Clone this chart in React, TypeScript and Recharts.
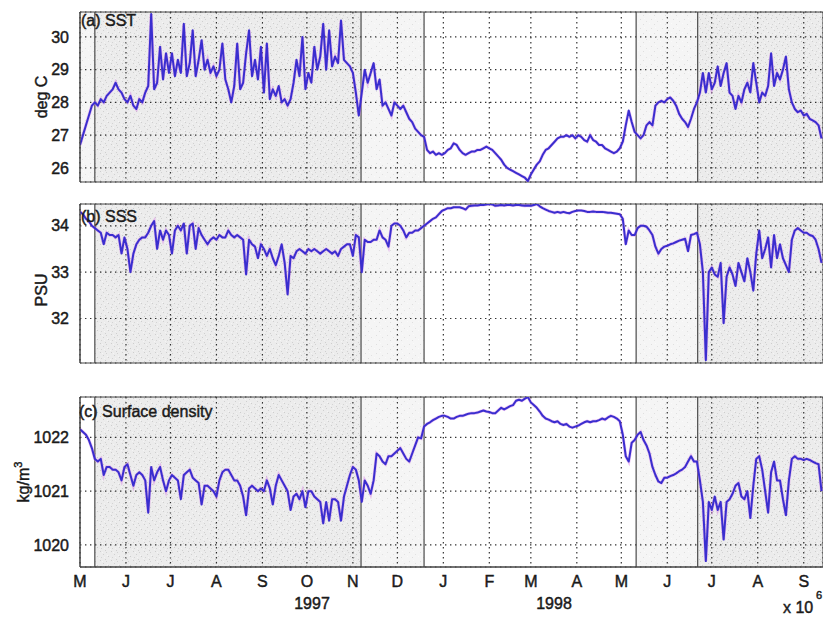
import React from 'react';
import { LineChart, Line, XAxis, YAxis, CartesianGrid, ReferenceArea, ReferenceLine } from 'recharts';

// Time axis: days since 1 May 1997, one sample every STEP_DAYS days.
const STEP_DAYS = 2;
const DAY_END = 501;
const monthStarts = [0, 31, 61, 92, 123, 153, 184, 214, 245, 276, 304, 335, 365, 396, 426, 457, 488];
const monthLabels = ['M', 'J', 'J', 'A', 'S', 'O', 'N', 'D', 'J', 'F', 'M', 'A', 'M', 'J', 'J', 'A', 'S'];

// Deployment boundaries (days) and the shaded periods between them.
const dividers = [10, 189.5, 232, 375, 416.5];
const darkPeriods: [number, number][] = [[10, 189.5], [416.5, DAY_END]];
const lightPeriods: [number, number][] = [[189.5, 232], [375, 416.5]];

// (a) Sea-surface temperature, deg C
const sst = [
  26.7, 27.0, 27.3, 27.6, 27.9, 28.0, 27.9, 28.1, 28.0, 28.2,
  28.3, 28.4, 28.6, 28.4, 28.3, 28.1, 28.0, 28.2, 27.9, 27.8,
  28.1, 28.0, 28.3, 28.5, 30.7, 28.4, 28.6, 29.7, 28.7, 29.5,
  28.9, 29.5, 28.8, 29.3, 28.9, 30.4, 28.8, 29.2, 30.2, 28.8,
  29.3, 29.9, 29.0, 29.3, 28.9, 29.1, 28.8, 29.0, 29.8, 28.7,
  28.4, 28.0, 28.5, 29.8, 28.4, 28.6, 29.5, 30.2, 28.8, 29.3,
  28.7, 29.7, 28.3, 29.8, 28.1, 28.4, 28.2, 28.5, 28.0, 28.1,
  27.9, 28.1, 28.6, 29.3, 28.8, 30.0, 28.4, 28.9, 28.6, 29.7,
  29.0, 29.4, 30.4, 29.0, 30.2, 29.1, 29.4, 29.2, 30.5, 29.3,
  29.2, 29.1, 28.9, 28.3, 27.6, 28.3, 29.0, 28.6, 28.9, 29.2,
  28.4, 28.7, 27.9, 28.0, 27.8, 27.6, 28.0, 27.9, 27.8, 27.9,
  27.7, 27.5, 27.4, 27.2, 27.1, 27.0, 26.95, 26.55, 26.45, 26.5,
  26.4, 26.45, 26.4, 26.45, 26.55, 26.6, 26.75, 26.7, 26.55, 26.45,
  26.4, 26.45, 26.5, 26.5, 26.55, 26.55, 26.6, 26.65, 26.6, 26.55,
  26.45, 26.35, 26.25, 26.1, 26.0, 25.95, 25.9, 25.85, 25.8, 25.75,
  25.7, 25.6, 25.8, 25.95, 26.1, 26.2, 26.4, 26.55, 26.6, 26.7,
  26.8, 26.9, 26.95, 26.95, 27.0, 26.95, 27.0, 26.9, 27.0, 26.95,
  26.85, 26.8, 27.0, 26.85, 26.8, 26.7, 26.7, 26.6, 26.55, 26.5,
  26.45, 26.5, 26.6, 26.8, 27.3, 27.75, 27.4, 27.1, 27.0, 26.9,
  27.0, 27.3, 27.4, 27.3, 27.9, 28.0, 28.05, 28.0, 28.1, 28.15,
  28.05, 27.9, 27.65, 27.5, 27.4, 27.25, 27.5, 27.8, 28.0, 28.3,
  28.9, 28.3, 28.9, 28.4, 28.6, 29.1, 28.5, 28.9, 29.2, 28.3,
  28.2, 27.8, 28.2, 28.0, 28.4, 28.6, 28.3, 29.2, 28.6, 28.0,
  28.3, 28.2, 28.5, 29.5, 28.5, 28.9, 28.7, 29.0, 29.4, 28.4,
  28.0, 27.8, 27.7, 27.75, 27.6, 27.65, 27.5, 27.45, 27.4, 27.3,
  26.9,
];

// (b) Sea-surface salinity, PSU
const sss = [
  34.3, 34.25, 34.15, 34.1, 34.0, 33.95, 33.9, 33.85, 33.6, 33.85,
  33.8, 33.8, 33.75, 33.8, 33.4, 33.75, 33.5, 33.0, 33.4, 33.6,
  33.7, 33.75, 33.75, 33.85, 34.0, 34.1, 33.5, 33.9, 33.7, 33.9,
  33.8, 33.4, 33.9, 34.0, 33.9, 34.05, 33.4, 34.0, 34.05, 33.5,
  33.95, 33.8, 33.7, 33.6, 33.7, 33.75, 33.7, 33.8, 33.75, 33.75,
  33.9, 33.8, 33.75, 33.8, 33.75, 33.7, 32.95, 33.7, 33.6, 33.55,
  33.3, 33.6, 33.5, 33.35, 33.5, 33.3, 33.15, 33.35, 33.6, 33.2,
  32.52, 33.35, 33.3, 33.45, 33.5, 33.45, 33.4, 33.5, 33.45, 33.5,
  33.45, 33.4, 33.45, 33.5, 33.45, 33.4, 33.45, 33.35, 33.5, 33.55,
  33.6, 33.6, 33.35, 33.8, 33.75, 33.0, 33.7, 33.65, 33.65, 33.7,
  33.7, 33.9, 33.75, 33.7, 33.55, 34.0, 34.05, 34.05, 34.0, 33.9,
  33.75, 33.85, 33.85, 33.9, 33.9, 33.95, 34.0, 34.05, 34.1, 34.15,
  34.18, 34.25, 34.32, 34.35, 34.38, 34.38, 34.4, 34.4, 34.4, 34.38,
  34.35, 34.42, 34.43, 34.44, 34.44, 34.45, 34.45, 34.46, 34.47, 34.46,
  34.43, 34.44, 34.45, 34.44, 34.45, 34.45, 34.44, 34.45, 34.45, 34.44,
  34.43, 34.44, 34.43, 34.45, 34.47, 34.42, 34.38, 34.35, 34.32, 34.3,
  34.28, 34.3, 34.28, 34.3, 34.28, 34.27, 34.3, 34.32, 34.33, 34.33,
  34.32, 34.3, 34.3, 34.31, 34.3, 34.3, 34.3, 34.29, 34.28, 34.28,
  34.27, 34.26, 34.25, 34.15, 33.6, 33.9, 33.8, 33.8, 33.95, 34.0,
  34.0, 33.98, 33.9, 33.8, 33.55, 33.4, 33.5, 33.55, 33.57, 33.6,
  33.62, 33.65, 33.68, 33.7, 33.72, 33.45, 33.8, 33.82, 33.85, 33.6,
  33.0, 31.1, 33.0, 33.1, 32.95, 32.9, 33.2, 31.9, 32.9, 33.1,
  32.95, 32.7, 33.2, 33.0, 32.8, 33.3, 33.0, 32.6, 33.4, 33.9,
  33.3, 33.5, 33.75, 33.1, 33.8, 33.3, 33.6, 33.3, 33.15, 33.0,
  33.7, 33.9, 33.95, 33.9, 33.85, 33.85, 33.8, 33.78, 33.7, 33.5,
  33.2,
];

// (c) Surface density, kg/m^3
const density = [
  1022.15, 1022.1, 1022.05, 1021.95, 1021.8, 1021.6, 1021.55, 1021.6, 1021.3, 1021.45,
  1021.45, 1021.4, 1021.4, 1021.35, 1021.2, 1021.45, 1021.5, 1021.3, 1021.1, 1021.3,
  1021.35, 1021.3, 1021.2, 1020.6, 1021.45, 1021.2, 1021.35, 1021.45, 1021.2, 1021.0,
  1021.2, 1021.3, 1021.25, 1021.2, 1020.85, 1021.3, 1021.35, 1021.4, 1021.25, 1021.2,
  1021.15, 1020.75, 1021.1, 1021.1, 1021.05, 1021.0, 1020.9, 1021.2, 1021.35, 1021.4,
  1021.4, 1021.3, 1021.2, 1021.2, 1021.1, 1020.9, 1020.55, 1021.05, 1021.1, 1021.05,
  1021.0, 1021.05, 1021.0, 1021.2, 1021.05, 1020.75, 1021.1, 1021.3, 1021.2, 1021.1,
  1021.0, 1020.65, 1020.9, 1020.95, 1020.85, 1021.0, 1020.7, 1021.0, 1021.0, 1020.9,
  1020.85, 1020.8, 1020.4, 1020.8, 1020.45, 1020.85, 1020.85, 1020.8, 1020.45, 1020.9,
  1021.1, 1021.3, 1021.45, 1021.4, 1021.2, 1020.8, 1021.2, 1021.1, 1020.95, 1021.2,
  1021.7, 1021.65, 1021.55, 1021.5, 1021.65, 1021.65, 1021.7, 1021.75, 1021.8, 1021.7,
  1021.6, 1021.55, 1021.7, 1021.85, 1022.0, 1021.98, 1022.2, 1022.25, 1022.28, 1022.32,
  1022.35, 1022.38, 1022.4, 1022.4, 1022.38, 1022.35, 1022.35, 1022.38, 1022.4, 1022.4,
  1022.42, 1022.44, 1022.45, 1022.45, 1022.46, 1022.48, 1022.5, 1022.48, 1022.47, 1022.45,
  1022.45, 1022.5, 1022.55, 1022.52, 1022.55, 1022.58, 1022.6, 1022.68, 1022.7, 1022.68,
  1022.72, 1022.75, 1022.65, 1022.6, 1022.55, 1022.48, 1022.4, 1022.35, 1022.33, 1022.3,
  1022.28, 1022.3, 1022.25, 1022.23, 1022.25, 1022.2, 1022.18, 1022.2, 1022.22, 1022.25,
  1022.28, 1022.3, 1022.28, 1022.3, 1022.3, 1022.32, 1022.35, 1022.33, 1022.37, 1022.4,
  1022.38, 1022.35, 1022.3, 1022.05, 1021.65, 1021.55, 1021.9, 1021.95, 1022.05, 1022.1,
  1021.95, 1021.85, 1021.7, 1021.45, 1021.3, 1021.18, 1021.15, 1021.25, 1021.25, 1021.28,
  1021.3, 1021.33, 1021.37, 1021.4, 1021.45, 1021.55, 1021.65, 1021.55, 1021.55, 1021.2,
  1020.8, 1019.7, 1020.8, 1020.65, 1020.9, 1020.65, 1020.8, 1020.1, 1020.8, 1020.85,
  1020.95, 1021.1, 1021.15, 1020.9, 1020.85, 1021.0, 1020.5, 1021.1, 1021.6, 1021.65,
  1021.4, 1021.0, 1020.6, 1021.35, 1021.55, 1021.2, 1021.2, 1020.85, 1020.55, 1021.2,
  1021.6, 1021.65, 1021.6, 1021.6, 1021.58, 1021.6, 1021.58, 1021.55, 1021.52, 1021.5,
  1021.0,
];

const sstTicks = [26, 27, 28, 29, 30];
const sssTicks = [32, 33, 34];
const densityTicks = [1020, 1021, 1022];

const toRows = (values: number[]) => values.map((v, i) => ({ day: i * STEP_DAYS, v }));

const FONT = 'Liberation Sans, Arial, Helvetica, sans-serif';
const INK = '#1a1a1a';
const LINE_BLUE = '#3a2ecf';
const LINE_HALO = '#d67ee6';

const tickStyle = { fill: INK, stroke: INK, strokeWidth: 0.45, fontSize: 16, fontFamily: FONT };

type PanelProps = {
  values: number[];
  domain: [number, number];
  ticks: number[];
  height: number;
  margin: { top: number; right: number; bottom: number; left: number };
  showMonths: boolean;
  shadeStart: boolean;
};

function Panel({ values, domain, ticks, height, margin, showMonths, shadeStart }: PanelProps) {
  const rows = toRows(values);
  return (
    <LineChart width={823} height={height} data={rows} margin={margin}>
      <CartesianGrid stroke="#333" strokeWidth={1.2} strokeDasharray="1.4 3.6" />
      {shadeStart && (
        <ReferenceArea x1={0} x2={dividers[0]} y1={domain[0]} y2={domain[1]} fill="url(#stippleLight)" fillOpacity={1} stroke="none" />
      )}
      {darkPeriods.map(([a, b], i) => (
        <ReferenceArea key={`d${i}`} x1={a} x2={b} y1={domain[0]} y2={domain[1]} fill="url(#stippleDark)" fillOpacity={1} stroke="none" />
      ))}
      {lightPeriods.map(([a, b], i) => (
        <ReferenceArea key={`l${i}`} x1={a} x2={b} y1={domain[0]} y2={domain[1]} fill="url(#stippleLight)" fillOpacity={1} stroke="none" />
      ))}
      <XAxis
        dataKey="day"
        type="number"
        domain={[0, DAY_END]}
        ticks={monthStarts}
        allowDataOverflow
        tickFormatter={(d: number) => (showMonths ? monthLabels[monthStarts.indexOf(d)] ?? '' : '')}
        tick={tickStyle}
        tickLine={false}
        tickSize={0}
        tickMargin={9}
        axisLine={{ stroke: '#444' }}
        height={showMonths ? 40 : 0}
        interval={0}
      />
      <YAxis
        type="number"
        domain={domain}
        ticks={ticks}
        allowDataOverflow
        width={80}
        tickLine={false}
        tickMargin={5}
        tick={tickStyle}
        axisLine={{ stroke: '#444' }}
        interval={0}
      />
      {dividers.map((d) => (
        <ReferenceLine key={d} x={d} stroke="#4a4a4a" strokeWidth={1.2} />
      ))}
      <Line dataKey="v" type="linear" stroke={LINE_HALO} strokeOpacity={0.45} strokeWidth={3.2} dot={false} isAnimationActive={false} />
      <Line dataKey="v" type="linear" stroke={LINE_BLUE} strokeWidth={2} strokeLinejoin="round" dot={false} isAnimationActive={false} />
      <ReferenceArea x1={0} x2={DAY_END} y1={domain[0]} y2={domain[1]} fill="none" stroke="#444" strokeWidth={1} />
    </LineChart>
  );
}

export default function App() {
  return (
    <div style={{ position: 'absolute', left: 0, top: 0, width: 823, height: 623, background: '#fff', overflow: 'hidden' }}>
      {/* Shared stipple fills for the shaded deployment periods */}
      <svg width={0} height={0} style={{ position: 'absolute' }}>
        <defs>
          <pattern id="stippleDark" width={11} height={9} patternUnits="userSpaceOnUse">
            <rect width={11} height={9} fill="#000" fillOpacity={0.075} />
            <rect x={1} y={0} width={1} height={1} fill="#000" fillOpacity={0.13} />
            <rect x={7} y={1} width={1} height={1} fill="#000" fillOpacity={0.11} />
            <rect x={4} y={3} width={1} height={1} fill="#000" fillOpacity={0.12} />
            <rect x={9} y={5} width={1} height={1} fill="#000" fillOpacity={0.13} />
            <rect x={2} y={6} width={1} height={1} fill="#000" fillOpacity={0.1} />
            <rect x={6} y={8} width={1} height={1} fill="#000" fillOpacity={0.12} />
            <rect x={3} y={1} width={1} height={1} fill="#fff" fillOpacity={0.45} />
            <rect x={8} y={4} width={1} height={1} fill="#fff" fillOpacity={0.45} />
            <rect x={0} y={7} width={1} height={1} fill="#fff" fillOpacity={0.4} />
            <rect x={5} y={6} width={1} height={1} fill="#fff" fillOpacity={0.4} />
          </pattern>
          <pattern id="stippleLight" width={11} height={9} patternUnits="userSpaceOnUse">
            <rect width={11} height={9} fill="#000" fillOpacity={0.04} />
            <rect x={2} y={1} width={1} height={1} fill="#000" fillOpacity={0.09} />
            <rect x={8} y={3} width={1} height={1} fill="#000" fillOpacity={0.08} />
            <rect x={5} y={6} width={1} height={1} fill="#000" fillOpacity={0.09} />
            <rect x={0} y={5} width={1} height={1} fill="#fff" fillOpacity={0.5} />
            <rect x={6} y={0} width={1} height={1} fill="#fff" fillOpacity={0.5} />
          </pattern>
        </defs>
      </svg>
      <div style={{ position: 'absolute', left: 0, top: 0 }}>
        <Panel values={sst} domain={[25.57, 30.76]} ticks={sstTicks} height={190}
          margin={{ top: 12, right: 0, bottom: 8, left: 0 }} showMonths={false} shadeStart />
      </div>
      <div style={{ position: 'absolute', left: 0, top: 190 }}>
        <Panel values={sss} domain={[31.04, 34.47]} ticks={sssTicks} height={190}
          margin={{ top: 14, right: 0, bottom: 17, left: 0 }} showMonths={false} shadeStart={false} />
      </div>
      <div style={{ position: 'absolute', left: 0, top: 380 }}>
        <Panel values={density} domain={[1019.59, 1022.75]} ticks={densityTicks} height={243}
          margin={{ top: 17, right: 0, bottom: 16, left: 0 }} showMonths shadeStart={false} />
      </div>
      <svg width={823} height={623} style={{ position: 'absolute', left: 0, top: 0, pointerEvents: 'none' }}
        fontFamily={FONT} fill={INK} stroke={INK} strokeWidth={0.45}>
        <text x={81} y={26} fontSize={16}>(a) SST</text>
        <text x={81} y={222} fontSize={16}>(b) SSS</text>
        <text x={79} y={417} fontSize={16}>(c) Surface density</text>
        <text transform="translate(47,97) rotate(-90)" textAnchor="middle" fontSize={16}>deg C</text>
        <text transform="translate(47,290) rotate(-90)" textAnchor="middle" fontSize={16}>PSU</text>
        <text transform="translate(29,482) rotate(-90)" textAnchor="middle" fontSize={16}>
          kg/m<tspan dy={-7} fontSize={11}>3</tspan>
        </text>
        <text x={312} y={609} textAnchor="middle" fontSize={16}>1997</text>
        <text x={554} y={609} textAnchor="middle" fontSize={16}>1998</text>
        <text x={783} y={613} fontSize={16}>x 10</text>
        <text x={816} y={599} fontSize={11}>6</text>
      </svg>
    </div>
  );
}
